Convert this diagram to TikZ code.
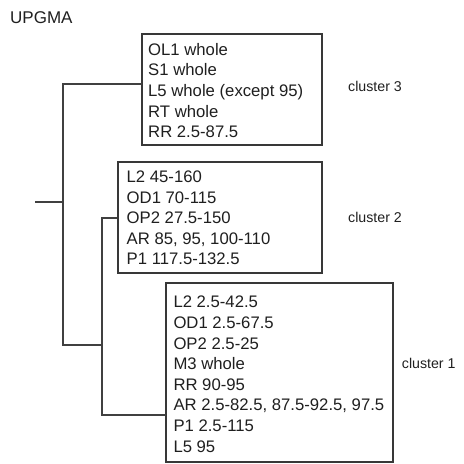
\documentclass[tikz,border=0pt]{standalone}
\usepackage{fontspec}
\setmainfont{Liberation Sans}
\begin{document}
\begin{tikzpicture}[x=1pt,y=-1pt,
  box/.style={draw=black!78,line width=1.4pt,inner sep=0pt},
  txt/.style={anchor=west,align=left,inner sep=0pt,text=black!88,font=\fontsize{16.7}{20.6}\selectfont},
  lab/.style={anchor=west,inner sep=0pt,text=black!88,font=\fontsize{14.2}{17}\selectfont},
  edge/.style={draw=black!75,line width=1.4pt}]
\useasboundingbox (0,0) rectangle (464,464);
\node[anchor=west,inner sep=0pt,text=black!88,font=\fontsize{17}{20}\selectfont] (title) at (10,18) {UPGMA};
% boxes
\node[box,minimum width=180,minimum height=111] (b3) at (232,89.5) {};
\node[box,minimum width=204,minimum height=111] (b2) at (220,217.5) {};
\node[box,minimum width=227,minimum height=179] (b1) at (279.5,372.5) {};
\node[txt] (t3) at (148,90.5) {OL1 whole\\S1 whole\\L5 whole (except 95)\\RT whole\\RR 2.5-87.5};
\node[txt] (t2) at (126.5,218) {L2 45-160\\OD1 70-115\\OP2 27.5-150\\AR 85, 95, 100-110\\P1 117.5-132.5};
\node[txt] (t1) at (173.3,374.2) {L2 2.5-42.5\\OD1 2.5-67.5\\OP2 2.5-25\\M3 whole\\RR 90-95\\AR 2.5-82.5, 87.5-92.5, 97.5\\P1 2.5-115\\L5 95};
\node[lab] (c3) at (348,86) {cluster 3};
\node[lab] (c2) at (348,217.7) {cluster 2};
\node[lab] (c1) at (401.7,363) {cluster 1};
% tree
\coordinate (root) at (35,202);
\coordinate (j1) at (63,202);
\coordinate (j1t) at (63,84);
\coordinate (j1b) at (63,345);
\coordinate (j2) at (102,345);
\coordinate (j2t) at (102,218);
\coordinate (j2b) at (102,415);
\coordinate (a3) at (142,84);
\coordinate (a1) at (166,415);
\draw[edge] (root) -- (j1);
\draw[edge] (a3) -- (j1t) -- (j1b) -- (j2);
\draw[edge] (b2.west |- j2t) -- (j2t) -- (j2b) -- (a1);
\end{tikzpicture}
\end{document}
